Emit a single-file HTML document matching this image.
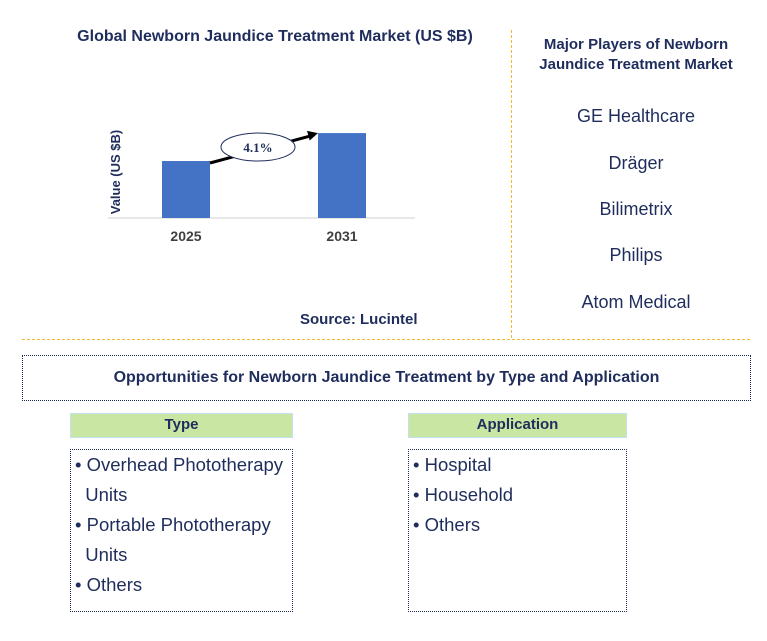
<!DOCTYPE html>
<html><head><meta charset="utf-8"><style>
body{margin:0;width:767px;height:641px;background:#fff;font-family:"Liberation Sans",Arial,sans-serif;position:relative;overflow:hidden}
.a{position:absolute}
.navy{color:#1f2d5c}
.box{border:1px dotted #1f2d5c;box-sizing:border-box}
.hdr{background:#c9e6a3;border:1px solid #c5dff2;box-sizing:border-box;text-align:center;font-weight:bold;font-size:15px;color:#1f2d5c;line-height:22px}
.list{font-size:18.5px;color:#1f2d5c;line-height:30px;padding:0 4px}
.pl{font-size:18px;color:#1f2d5c;width:250px;text-align:center;left:511px}
</style></head><body>
<div class="a navy" style="left:40px;top:28px;width:470px;text-align:center;font-weight:bold;font-size:16px">Global Newborn Jaundice Treatment Market (US $B)</div>
<svg class="a" style="left:0;top:0" width="511" height="340">
<g id="g"></g>
<text x="0" y="0" transform="translate(120,172) rotate(-90)" text-anchor="middle" font-size="13" font-weight="bold" fill="#1f2d5c" font-family="Liberation Sans">Value (US $B)</text>
</svg>
<div class="a navy" style="left:300px;top:311px;font-size:15px;font-weight:bold">Source: Lucintel</div>
<div class="a" style="left:511px;top:30px;height:308px;border-left:1px dashed #f0b92e"></div>
<div class="a" style="left:22px;top:339px;width:728px;border-top:1px dashed #f0b92e"></div>
<div class="a navy" style="left:511px;top:35px;width:250px;text-align:center;font-weight:bold;font-size:15px;line-height:20px">Major Players of Newborn<br>Jaundice Treatment Market</div>
<div class="a pl" style="top:106px">GE Healthcare</div>
<div class="a pl" style="top:153px">Dräger</div>
<div class="a pl" style="top:199px">Bilimetrix</div>
<div class="a pl" style="top:245px">Philips</div>
<div class="a pl" style="top:292px">Atom Medical</div>
<div class="a box navy" style="left:22px;top:355px;width:729px;height:46px;text-align:center;line-height:44px;font-weight:bold;font-size:16px">Opportunities for Newborn Jaundice Treatment by Type and Application</div>
<div class="a hdr" style="left:70px;top:413px;width:223px;height:25px">Type</div>
<div class="a hdr" style="left:408px;top:413px;width:219px;height:25px">Application</div>
<div class="a box list" style="left:70px;top:449px;width:223px;height:163px">• Overhead Phototherapy<br>&nbsp;&nbsp;Units<br>• Portable Phototherapy<br>&nbsp;&nbsp;Units<br>• Others</div>
<div class="a box list" style="left:408px;top:449px;width:219px;height:163px">• Hospital<br>• Household<br>• Others</div>
<script>
const categories=["2025","2031"];
const values=[1.0,1.49];
const cagrLabel="4.1%";
const NS="http://www.w3.org/2000/svg";
const g=document.getElementById('g');
const base=218,unit=57;
const xc=i=>186+i*156;
const yv=v=>base-v*unit;
function mk(t,a){const e=document.createElementNS(NS,t);for(const k in a)e.setAttribute(k,a[k]);g.appendChild(e);return e;}
const ax=mk('line',{x1:108,y1:base,x2:415,y2:base,stroke:'#d0d0d0','stroke-width':1});


categories.forEach((c,i)=>{
 const r=mk('rect',{x:xc(i)-24,y:yv(values[i]),width:48,height:values[i]*unit,fill:'#4472c4'});
 
 
 const t=mk('text',{x:xc(i),y:base+23,'text-anchor':'middle','font-size':14,'font-weight':'bold',fill:'#404040','font-family':'Liberation Sans'});
 t.textContent=c;
 
 
});
const x1=xc(0)+24,y1=yv(values[0])+2,x2=xc(1)-24,y2=yv(values[1]);
const ar=mk('line',{x1:x1,y1:y1,x2:x2-8,y2:y2+3,stroke:'#000','stroke-width':3});


const ang=Math.atan2(y2-y1,x2-x1);
const hx=x2,hy=y2;
const p=[[hx,hy],[hx-10*Math.cos(ang)+5*Math.sin(ang),hy-10*Math.sin(ang)-5*Math.cos(ang)],[hx-10*Math.cos(ang)-5*Math.sin(ang),hy-10*Math.sin(ang)+5*Math.cos(ang)]];
const ah=mk('polygon',{points:p.map(q=>q.join(',')).join(' '),fill:'#000'});


const cx=(x1+x2)/2-6,cy=(y1+y2)/2-1;
const el=mk('ellipse',{cx:cx,cy:cy,rx:37,ry:14,fill:'#fff',stroke:'#1f2d5c','stroke-width':1});


const ct=mk('text',{x:cx,y:cy+5,'text-anchor':'middle','font-size':13,'font-weight':'bold',fill:'#1f2d5c','font-family':'Liberation Serif'});
ct.textContent=cagrLabel;


</script>
</body></html>
